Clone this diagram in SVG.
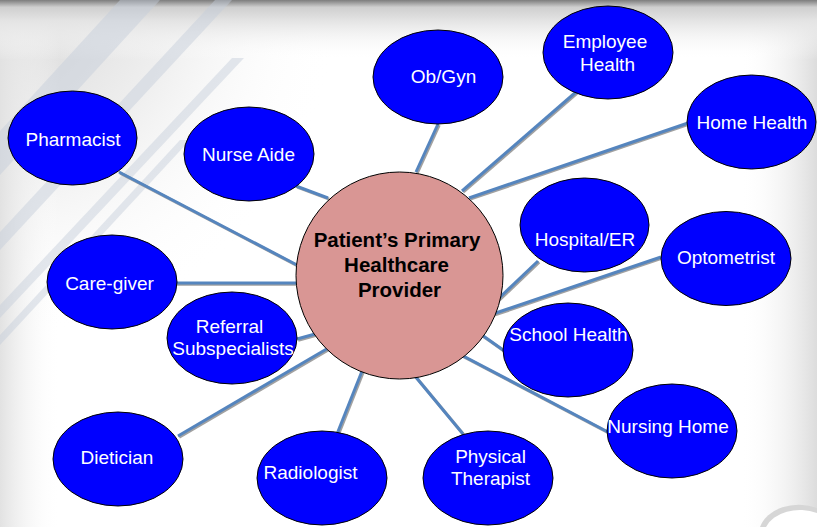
<svg xmlns="http://www.w3.org/2000/svg" xmlns:xlink="http://www.w3.org/1999/xlink" width="817" height="527" viewBox="0 0 817 527">
<style>
.node{fill:#0000FF;stroke:#000;stroke-width:1}
.lbl{font-family:"Liberation Sans",Arial,sans-serif;font-size:19px;fill:#fff;text-anchor:middle}
.clbl{font-family:"Liberation Sans",Arial,sans-serif;font-size:20.5px;font-weight:bold;fill:#000;text-anchor:middle}
.conn{stroke:#5585BE;stroke-width:3;fill:none}
.shadow{stroke:#8a8a8a;stroke-width:3;fill:none;opacity:0.8}
.stripe{fill:#c3ccd9;opacity:0.45}
</style>
<defs>
<linearGradient id="topbar" x1="0" y1="0" x2="0" y2="1">
<stop offset="0" stop-color="#7d7d7d"/>
<stop offset="0.12" stop-color="#cfcfcf"/>
<stop offset="0.35" stop-color="#e4e4e4"/>
<stop offset="1" stop-color="#ffffff" stop-opacity="0"/>
</linearGradient>
<radialGradient id="leftfade" gradientUnits="userSpaceOnUse" cx="0" cy="0" r="340">
<stop offset="0" stop-color="#d2d2d2"/>
<stop offset="0.5" stop-color="#e8e8e8" stop-opacity="0.7"/>
<stop offset="1" stop-color="#ffffff" stop-opacity="0"/>
</radialGradient>
<linearGradient id="rightfade" x1="0" y1="0" x2="1" y2="0">
<stop offset="0" stop-color="#ffffff" stop-opacity="0"/>
<stop offset="1" stop-color="#dcdcdc"/>
</linearGradient>
<linearGradient id="leftedge" x1="0" y1="0" x2="1" y2="0">
<stop offset="0" stop-color="#e2e2e2"/>
<stop offset="1" stop-color="#ffffff" stop-opacity="0"/>
</linearGradient>
<g id="lines">
<line x1="119" y1="172" x2="297" y2="265"/>
<line x1="296" y1="186" x2="328" y2="198"/>
<line x1="438" y1="124" x2="416" y2="172"/>
<line x1="576" y1="92" x2="462" y2="191"/>
<line x1="688" y1="123" x2="469" y2="198"/>
<line x1="170" y1="283" x2="296" y2="283"/>
<line x1="297" y1="339" x2="326" y2="331"/>
<line x1="178" y1="436" x2="342" y2="340"/>
<line x1="337" y1="434" x2="368" y2="356"/>
<line x1="463" y1="434" x2="400" y2="358"/>
<line x1="608" y1="432" x2="448" y2="348"/>
<line x1="472" y1="328" x2="506" y2="352"/>
<line x1="661" y1="257" x2="487" y2="316"/>
<line x1="538" y1="261" x2="496" y2="301"/>
</g>
</defs>
<g id="background">
<rect x="0" y="0" width="817" height="527" fill="#ffffff"/>
<rect x="0" y="0" width="817" height="527" fill="url(#leftfade)"/>
<rect x="0" y="0" width="60" height="527" fill="url(#leftedge)"/>
<rect x="740" y="0" width="77" height="527" fill="url(#rightfade)"/>
<rect x="0" y="0" width="817" height="60" fill="url(#topbar)"/>
<polygon class="stripe" points="120,0 160,0 0,175 0,131"/>
<polygon class="stripe" points="215,0 232,0 0,250 0,232"/>
<polygon class="stripe" points="232,58 244,58 0,318 0,305"/>
<polygon class="stripe" points="180,140 190,140 0,345 0,335"/>
<path d="M760,527 A40,30 0 0 1 817,508 L817,527 Z" fill="#d6d6d6"/>
<path d="M766,527 A36,25 0 0 1 817,513 L817,527 Z" fill="#ffffff"/>
</g>
<g id="connectors">
<use xlink:href="#lines" href="#lines" class="shadow" transform="translate(1.2,1.2)"/>
<use xlink:href="#lines" href="#lines" class="conn"/>
</g>
<g id="provider">
<ellipse cx="399.5" cy="275.5" rx="103.5" ry="103.5" fill="#D99694" stroke="#000" stroke-width="1"/>
<text class="clbl" x="397" y="247">Patient’s Primary</text>
<text class="clbl" x="396.5" y="272">Healthcare</text>
<text class="clbl" x="399.5" y="297">Provider</text>
</g>
<g id="pharmacist"><ellipse class="node" cx="72.5" cy="138" rx="64.5" ry="47"/><text class="lbl" x="73" y="146">Pharmacist</text></g>
<g id="nurse-aide"><ellipse class="node" cx="249" cy="154" rx="65" ry="47"/><text class="lbl" x="248.5" y="161">Nurse Aide</text></g>
<g id="ob-gyn"><ellipse class="node" cx="438" cy="77" rx="65" ry="47"/><text class="lbl" x="443.5" y="83">Ob/Gyn</text></g>
<g id="employee-health"><ellipse class="node" cx="608" cy="52.5" rx="65" ry="46.5"/><text class="lbl" x="605" y="48">Employee</text><text class="lbl" x="607.5" y="71">Health</text></g>
<g id="home-health"><ellipse class="node" cx="751.5" cy="122" rx="64.5" ry="47"/><text class="lbl" x="752" y="129">Home Health</text></g>
<g id="hospital-er"><ellipse class="node" cx="584.5" cy="225" rx="64.5" ry="47"/><text class="lbl" x="585" y="246">Hospital/ER</text></g>
<g id="optometrist"><ellipse class="node" cx="726" cy="258.5" rx="65" ry="47"/><text class="lbl" x="726" y="264">Optometrist</text></g>
<g id="care-giver"><ellipse class="node" cx="112" cy="282" rx="65" ry="47"/><text class="lbl" x="109.5" y="290">Care-giver</text></g>
<g id="referral-subspecialists"><ellipse class="node" cx="232" cy="338" rx="65" ry="46"/><text class="lbl" x="229.5" y="333">Referral</text><text class="lbl" x="233" y="355">Subspecialists</text></g>
<g id="school-health"><ellipse class="node" cx="568" cy="350" rx="65" ry="47"/><text class="lbl" x="568.5" y="341">School Health</text></g>
<g id="nursing-home"><ellipse class="node" cx="672" cy="431" rx="65" ry="47"/><text class="lbl" x="668" y="433">Nursing Home</text></g>
<g id="dietician"><ellipse class="node" cx="118" cy="459" rx="65" ry="47"/><text class="lbl" x="117" y="464">Dietician</text></g>
<g id="radiologist"><ellipse class="node" cx="322" cy="478" rx="65" ry="47"/><text class="lbl" x="310.5" y="479">Radiologist</text></g>
<g id="physical-therapist"><ellipse class="node" cx="488" cy="478" rx="65" ry="47"/><text class="lbl" x="490.5" y="463">Physical</text><text class="lbl" x="490.5" y="485">Therapist</text></g>
</svg>
